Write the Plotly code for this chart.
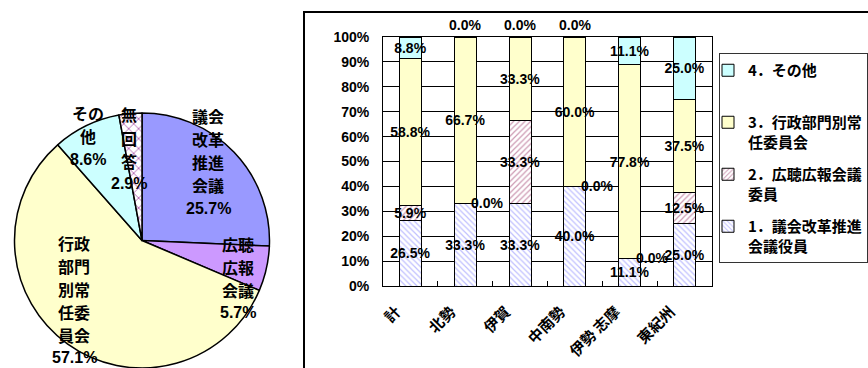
import plotly.graph_objects as go

# ---- pie: overall answer shares ----
pie_labels = ["議会改革推進会議", "広聴広報会議", "行政部門別常任委員会", "その他", "無回答"]
pie_values = [25.7, 5.7, 57.1, 8.6, 2.9]
pie_colors = ["#9999FF", "#CC99FF", "#FFFFCC", "#CCFFFF", "#FFFFFF"]
pie_patterns = ["", "", "", "", "x"]
# slice captions, one list entry per printed line (value line appended below)
pie_caption = [["議会", "改革", "推進", "会議"],
               ["広聴", "広報", "会議"],
               ["行政", "部門", "別常", "任委", "員会"],
               ["その", "他"],
               ["無", "回", "答"]]
# caption centres in pixels (x, y from top)
pie_text_pos = [(208, 162), (238, 278), (74, 300), (88, 136), (129, 149)]
PIE_LINE = 23

# ---- stacked bars by region ----
regions = ["計", "北勢", "伊賀", "中南勢", "伊勢 志摩", "東紀州"]
series_names = ["1．議会改革推進<br>会議役員", "2．広聴広報会議<br>委員",
                "3．行政部門別常<br>任委員会", "4．その他<br>\u3000"]
s1 = [26.5, 33.3, 33.3, 40.0, 11.1, 25.0]
s2 = [5.9, 0.0, 33.3, 0.0, 0.0, 12.5]
s3 = [58.8, 66.7, 33.3, 60.0, 77.8, 37.5]
s4 = [8.8, 0.0, 0.0, 0.0, 11.1, 25.0]
series = [s1, s2, s3, s4]
fills = ["#FFFFFF", "#FFFFFF", "#FFFFCC", "#CCFFFF"]
hatch = ["\\", "/", "", ""]
hatch_col = ["#8080FF", "#993366", "#000000", "#000000"]

W, H = 868, 368
NUM = "Liberation Sans, Arial, Noto Sans CJK JP"
JP = "Noto Sans CJK JP, Liberation Sans"

fig = go.Figure()

fig.add_trace(go.Pie(
    labels=pie_labels, values=pie_values, sort=False, direction="clockwise",
    rotation=0, textinfo="none", showlegend=False,
    marker=dict(colors=pie_colors, line=dict(color="#000000", width=1.5),
                pattern=dict(shape=pie_patterns, fgcolor="#800080", size=7, solidity=0.15)),
    domain=dict(x=[14 / W, 270 / W], y=[0, (H - 113) / H]),
))

n_series = len(series)
for i, (name, vals) in enumerate(zip(series_names, series)):
    fig.add_trace(go.Bar(
        x=regions, y=vals, name=name, legendgroup=str(i), legendrank=n_series - i,
        marker=dict(color=fills[i], line=dict(color="#000000", width=1),
                    pattern=dict(shape=hatch[i], fgcolor=hatch_col[i], bgcolor=fills[i],
                                 size=4, solidity=0.3)),
        text=[f"{v:.1f}%" if v > 0 else "" for v in vals],
        textposition="inside", insidetextanchor="middle", constraintext="none",
        textangle=0, textfont=dict(family=NUM, size=14, color="#000000", weight="bold"),
    ))

annotations = []
# zero-valued segments get their label beside the stack
for i, vals in enumerate(series):
    for j, v in enumerate(vals):
        if v == 0:
            base = sum(series[k][j] for k in range(i))
            top = i == n_series - 1
            annotations.append(dict(
                x=regions[j], y=base, xref="x", yref="y", text=f"{v:.1f}%",
                showarrow=False, xshift=0 if top else 22, yshift=12 if top else 0,
                font=dict(family=NUM, size=14, color="#000000", weight="bold")))

# pie captions: name lines followed by the slice value
for lines, v, (px, py) in zip(pie_caption, pie_values, pie_text_pos):
    all_lines = lines + [f"{v:.1f}%"]
    n = len(all_lines)
    for k, line in enumerate(all_lines):
        ly = py + (k - (n - 1) / 2) * PIE_LINE
        annotations.append(dict(
            x=px / W, y=(H - ly) / H, xref="paper", yref="paper", text=line,
            showarrow=False, xanchor="center", yanchor="middle",
            font=dict(family=NUM if k == n - 1 else JP, size=16, color="#000000",
                      weight="bold")))

fig.update_layout(
    width=W, height=H, margin=dict(l=0, r=0, t=0, b=0, autoexpand=False),
    paper_bgcolor="#FFFFFF", plot_bgcolor="#FFFFFF",
    barmode="stack", bargap=0.6,
    xaxis=dict(domain=[383 / W, 712 / W], type="category", showgrid=False,
               showline=True, linecolor="#000000", linewidth=1, mirror=True,
               tickson="boundaries", ticks="inside", ticklen=5, tickcolor="#000000",
               tickangle=-45, ticklabelstandoff=10, ticklabelshift=-14,
               tickfont=dict(family=JP, size=15, color="#000000", weight="bold")),
    yaxis=dict(domain=[(H - 286) / H, (H - 37) / H], range=[0, 100], dtick=10,
               ticksuffix="%", showgrid=True, gridcolor="#000000", gridwidth=1,
               showline=True, linecolor="#000000", linewidth=1, mirror=True,
               zeroline=False, ticks="", ticklabelstandoff=10,
               tickfont=dict(family=NUM, size=14, color="#000000", weight="bold")),
    legend=dict(x=719 / W, y=(H - 53) / H, xanchor="left", yanchor="top",
                traceorder="grouped", tracegroupgap=10, valign="top",
                bordercolor="#333333", borderwidth=1, bgcolor="#FFFFFF",
                indentation=-12,
                font=dict(family=JP, size=15, color="#000000", weight="bold")),
    annotations=annotations,
    shapes=[dict(type="rect", xref="paper", yref="paper", x0=304 / W, x1=1.05,
                 y0=-0.05, y1=(H - 12) / H, line=dict(color="#000000", width=2),
                 layer="below")],
    showlegend=True,
)

fig.write_html("out.html")
